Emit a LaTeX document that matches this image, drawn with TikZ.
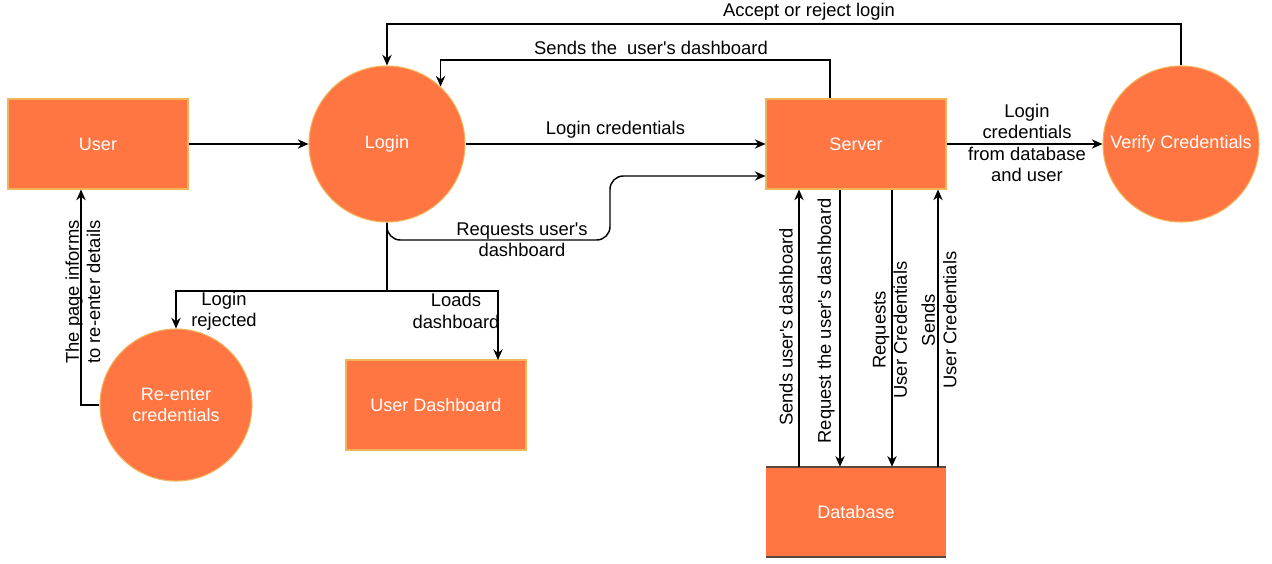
\documentclass[tikz,border=0pt]{standalone}
\usepackage{fontspec}
\setmainfont{Liberation Sans}
\usetikzlibrary{arrows.meta}
\definecolor{boxfill}{RGB}{255,118,66}
\definecolor{boxline}{RGB}{240,180,90}
\definecolor{dbline}{RGB}{90,70,60}
\newcommand{\apo}{\textquotesingle}
\tikzset{
  proc/.style={circle, fill=boxfill, draw=boxline, line width=0.8pt, minimum size=117pt, inner sep=0pt, text=white, align=center, font=\fontsize{13.5}{16}\selectfont},
  ent/.style={rectangle, fill=boxfill, draw=boxline, line width=0.8pt, minimum width=135pt, minimum height=67.5pt, inner sep=0pt, text=white, align=center, font=\fontsize{13.5}{16}\selectfont},
  flow/.style={draw=black, line width=1.1pt, -{Stealth[length=8pt,width=7pt]}},
  plain/.style={draw=black, line width=1.1pt},
  lbl/.style={font=\fontsize{13.8}{16}\selectfont, align=center, inner sep=0pt, text=black},
}
\begin{document}
\begin{tikzpicture}[x=0.75pt,y=-0.75pt]
\useasboundingbox (0,0) rectangle (1272,564);
\fill[white] (0,0) rectangle (1272,564);

\node[ent] (user) at (98,144) {User};
\node[proc] (login) at (387,144) {Login};
\node[ent] (server) at (856,144) {Server};
\node[proc] (verify) at (1181,144) {Verify Credentials};
\node[proc, minimum size=114pt] (reenter) at (176,405) {Re-enter\\credentials};
\node[ent] (dash) at (436,405) {User Dashboard};
\node[rectangle, fill=boxfill, minimum width=135pt, minimum height=67.5pt, inner sep=0pt, text=white, font=\fontsize{13.5}{16}\selectfont] (db) at (856,512) {Database};
\draw[dbline, line width=1.5pt] (db.north west) -- (db.north east);
\draw[dbline, line width=1.5pt] (db.south west) -- (db.south east);

% user -> login
\draw[flow] (user.east) -- (login.west);
% login -> server
\draw[flow] (login.east) -- node[lbl, above=4pt] {Login credentials} (server.west);
% server -> verify
\draw[flow] (server.east) -- (verify.west);
\node[lbl] (lcred) at (1027,143) {Login\\credentials\\from database\\and user};

% verify -> login (accept or reject)
\coordinate (acc) at (1181,24);
\draw[flow] (verify.north) -- (acc) -- (login.north |- acc) -- (login.north);
\node[lbl] (acclbl) at (809,12) {Accept or reject login};

% server -> login (sends dashboard)
\coordinate (sd) at (830,60);
\draw[flow] (server.north -| sd) -- (sd) -- (login.47 |- sd) -- (login.47);
\node[lbl] (sdlbl) at (651,48) {Sends the\ \ user\apo s dashboard};

% login -> server (requests dashboard)
\draw[flow, rounded corners=10pt] (login.south) -- (387,240) -- (610,240) -- (610,176) -- (server.west |- 0,176);
\node[lbl] (reqlbl) at (522,240) {Requests user\apo s\\dashboard};

% login split
\coordinate (split) at (387,291);
\draw[plain] (login.south) -- (split);
\draw[flow] (split) -- (176,291) -- (reenter.north);
\draw[flow] (split) -- (498,291) -- (498,360);
\node[lbl] (rejlbl) at (224,311) {Login\\rejected};
\node[lbl] (loadlbl) at (456,311) {Loads\\dashboard};

% reenter -> user
\draw[flow] (reenter.west) -- (81,405) -- (81,0 |- user.south);
\node[lbl, rotate=90] (pagelbl) at (83,292) {The page informs\\to re-enter details};

% server <-> database
\draw[flow] (799,0 |- db.north) -- (799,0 |- server.south);
\draw[flow] (840,0 |- server.south) -- (840,0 |- db.north);
\draw[flow] (892,0 |- server.south) -- (892,0 |- db.north);
\draw[flow] (938,0 |- db.north) -- (938,0 |- server.south);
\node[lbl, rotate=90] (l1) at (786,327) {Sends user\apo s dashboard};
\node[lbl, rotate=90] (l2) at (826,321) {Request the user\apo s dashboard};
\node[lbl, rotate=90] (l3) at (890,330) {Requests\\User Credentials};
\node[lbl, rotate=90] (l4) at (939,320) {Sends\\User Credentials};
\end{tikzpicture}
\end{document}
